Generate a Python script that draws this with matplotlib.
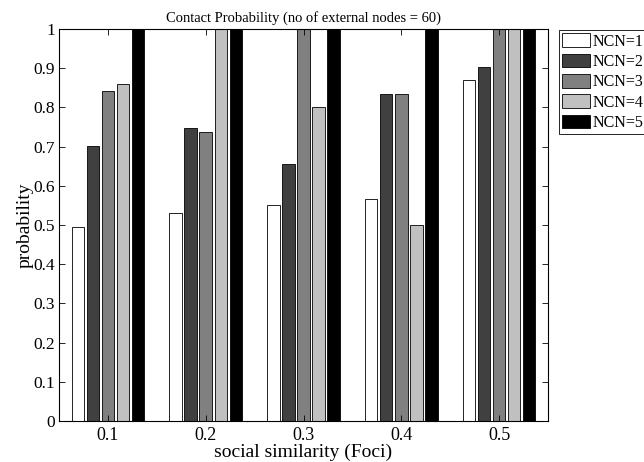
import numpy as np
import matplotlib
matplotlib.use("Agg")
import matplotlib.pyplot as plt

plt.rcParams["font.family"] = ["Liberation Serif", "DejaVu Serif"]

### data ###
similarity = [0.1, 0.2, 0.3, 0.4, 0.5]
ncn1 = [0.495, 0.530, 0.551, 0.566, 0.869]
ncn2 = [0.701, 0.748, 0.655, 0.833, 0.902]
ncn3 = [0.843, 0.736, 1.0, 0.833, 1.0]
ncn4 = [0.860, 1.0, 0.800, 0.500, 1.0]
ncn5 = [1.0, 1.0, 1.0, 1.0, 1.0]
series = [ncn1, ncn2, ncn3, ncn4, ncn5]
labels = ["NCN=1", "NCN=2", "NCN=3", "NCN=4", "NCN=5"]
colors = ["#ffffff", "#404040", "#808080", "#c0c0c0", "#000000"]

fig = plt.figure(figsize=(6.44, 4.62), dpi=100)
ax = fig.add_axes([59 / 644, 41 / 462, 489 / 644, 392 / 462])

x = np.array(similarity)
step = 0.0154
width = 0.0128
for i, vals in enumerate(series):
    ax.bar(x + (i - 2) * step, vals, width, color=colors[i], edgecolor="k",
           linewidth=0.6, label=labels[i])

### axis params ###
ax.set_xlim(0.05, 0.55)
ax.set_ylim(0, 1)
ax.set_xticks(similarity)
ax.set_xticklabels(["0.1", "0.2", "0.3", "0.4", "0.5"])
ax.set_yticks(np.arange(0, 1.01, 0.1))
ax.set_yticklabels(["0", "0.1", "0.2", "0.3", "0.4", "0.5", "0.6", "0.7", "0.8", "0.9", "1"])
ax.tick_params(direction="in", top=True, right=True, length=4, width=0.6)
ax.tick_params(axis="x", labelsize=13, pad=4)
ax.tick_params(axis="y", labelsize=12.5, pad=3)
for s in ax.spines.values():
    s.set_linewidth(0.8)
ax.set_xlabel("social similarity (Foci)", fontsize=14, labelpad=0)
ax.set_ylabel("probability", fontsize=14, labelpad=0)
ax.set_title("Contact Probability (no of external nodes = 60)", fontsize=10.5, pad=5)

leg = fig.legend(loc="upper left", bbox_to_anchor=(559 / 644, 1 - 30 / 462), fontsize=11.5,
                 frameon=True, fancybox=False, edgecolor="k", framealpha=1,
                 handlelength=1.75, handleheight=0.95, handletextpad=0.15,
                 labelspacing=0.25, borderpad=0.2, borderaxespad=0)
leg.get_frame().set_linewidth(0.6)

fig.savefig("out.png", dpi=100)
